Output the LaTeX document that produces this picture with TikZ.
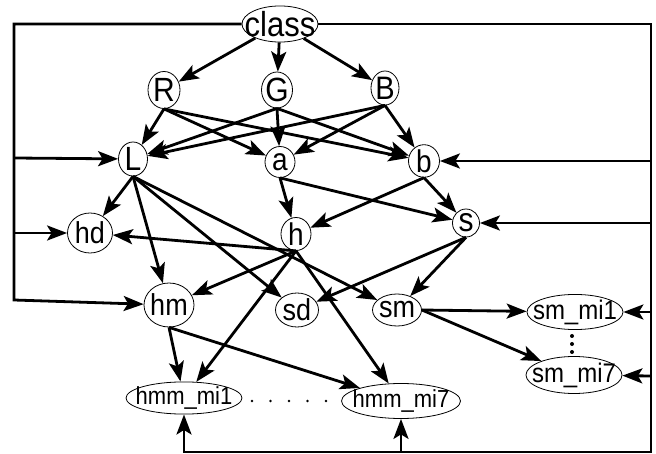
\documentclass[tikz,border=0pt]{standalone}
\usepackage{graphicx}
\usepackage{fontspec}
\setmainfont{Liberation Sans}
\usetikzlibrary{shapes.geometric,arrows.meta}
% label of zero width, set a little taller than the font, so the ellipse keeps the size asked for
\newcommand\nlab[1]{\makebox[0pt]{\scalebox{1}[1.12]{#1}}}
\begin{document}
\begin{tikzpicture}[x=1pt,y=-1pt,
  el/.style={ellipse,draw,line width=0.8pt,inner sep=0pt},
  sz/.style 2 args={minimum width=#1pt,minimum height=#2pt},
  fs/.style={font=\fontsize{#1}{#1}\selectfont},
  ed/.style={line width=2.8pt,-{Stealth[length=20pt,width=15pt,inset=4.5pt]}},
  dotmark/.style={fill=black}]
\useasboundingbox (0,0) rectangle (656,454);

% nodes
\node[el,sz={76}{36},fs=31] (class) at (280,24) {\nlab{class}};
\node[el,sz={32}{37},fs=30] (R) at (164,90) {\nlab{R}};
\node[el,sz={31}{36},fs=30] (G) at (277,90) {\nlab{G}};
\node[el,sz={28}{34},fs=29] (B) at (385,88) {\nlab{B}};
\node[el,sz={29}{34},fs=30] (L) at (133,159) {\nlab{L}};
\node[el,sz={30}{31},fs=28] (a) at (280,162) {\nlab{a}};
\node[el,sz={31}{32},fs=28] (b) at (424,161) {\nlab{b}};
\node[el,sz={30}{33},fs=28] (h) at (296,234) {\nlab{h}};
\node[el,sz={27}{28},fs=30] (s) at (466,223) {\nlab{s}};
\node[el,sz={45}{40},fs=27] (hd) at (90,233) {\nlab{hd}};
\node[el,sz={50}{44},fs=27] (hm) at (169,305) {\nlab{hm}};
\node[el,sz={43}{34},fs=27] (sd) at (297,310) {\nlab{sd}};
\node[el,sz={49}{32},fs=27] (sm) at (397,310) {\nlab{sm}};
\node[el,sz={96}{33},fs=24] (smi1) at (575,312) {\nlab{sm\_mi1}};
\node[el,sz={96}{37},fs=24] (smi7) at (574,375) {\nlab{sm\_mi7}};
\node[el,sz={116}{32},fs=22] (hmi1) at (184,398) {\nlab{hmm\_mi1}};
\node[el,sz={119}{35},fs=22] (hmi7) at (401,401) {\nlab{hmm\_mi7}};

% corners and feed points of the outer frame
\coordinate (tl) at (14,24);
\coordinate (ll1) at (14,158);
\coordinate (ll2) at (14,233);
\coordinate (ll3) at (14,300);
\coordinate (tr) at (651,24);
\coordinate (rr1) at (651,161);
\coordinate (rr2) at (651,223);
\coordinate (rr3) at (651,312);
\coordinate (rr4) at (651,376);
\coordinate (br) at (651,452);
\coordinate (bm) at (401,452);
\coordinate (bl) at (184,452);

% class to the colour channels
\draw[ed] (class) -- (R);
\draw[ed] (class) -- (G);
\draw[ed] (class) -- (B);

% channels to L, a, b
\foreach \src in {R,G,B}
  \foreach \dst in {L,a,b}
    \draw[ed] (\src.south) -- (\dst);

% L
\draw[ed] (L.south) -- (hd);
\draw[ed] (L.south) -- (hm);
\draw[ed] (L.south) -- (sd);
\draw[ed] (L.south) -- (sm);

% a and b
\draw[ed] (a.south) -- (h);
\draw[ed] (a.south) -- (s);
\draw[ed] (b.south) -- (h);
\draw[ed] (b.south) -- (s);

% h
\draw[ed] (h.south) -- (hd);
\draw[ed] (h.south) -- (hm);
\draw[ed] (h.south) -- (hmi1);
\draw[ed] (h.south) -- (hmi7);

% s
\draw[ed] (s.south) -- (sd);
\draw[ed] (s.south) -- (sm);

% hm and sm
\draw[ed] (hm.south) -- (hmi1);
\draw[ed] (hm.south) -- (hmi7);
\draw[ed] (sm.east) -- (smi1);
\draw[ed] (sm.east) -- (smi7);

% outer frame
\draw[ed] (class.west) -- (tl) -- (ll3) -- (hm);
\draw[ed] (ll1) -- (L);
\draw[ed] (ll2) -- (hd);
\draw[ed] (class.east) -- (tr) -- (br) -- (bl) -- (hmi1.south);
\draw[ed] (bm) -- (hmi7.south);
\draw[ed] (rr1) -- (b);
\draw[ed] (rr2) -- (s);
\draw[ed] (rr3) -- (smi1);
\draw[ed] (rr4) -- (smi7);

% ellipsis dots
\foreach \x in {252,270.5,289,307.5,326}
  \fill[dotmark] (\x,401) circle (1.4);
\foreach \y in {336,344,352}
  \fill[dotmark] (572,\y) circle (2);
\end{tikzpicture}
\end{document}
